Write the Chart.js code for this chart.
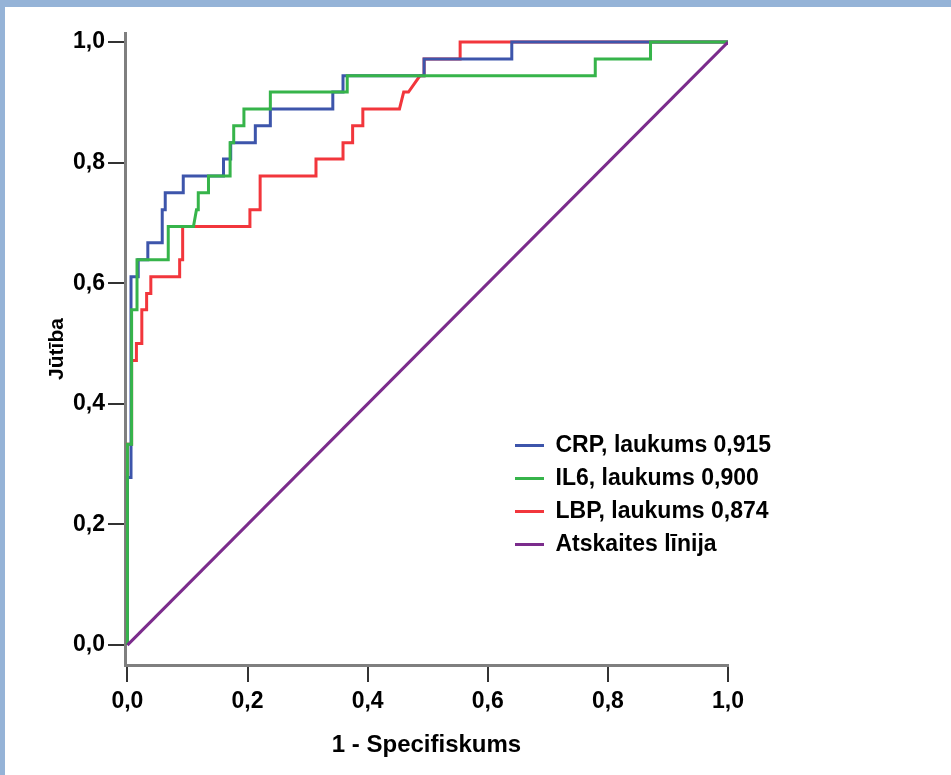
<!DOCTYPE html>
<html lang="lv">
<head>
  <meta charset="UTF-8" />
  <title>ROC līknes</title>
  <script src="https://cdn.jsdelivr.net/npm/chart.js"></script>
  <style>
    html, body { margin: 0; padding: 0; }
    body { width: 951px; height: 775px; background: #95b3d7; position: relative; overflow: hidden; }
    .panel { position: absolute; left: 5px; top: 7px; width: 946px; height: 768px; background: #fff; }
  </style>
</head>
<body>
  <div class="panel">
    <canvas id="rocCanvas" width="946" height="768"></canvas>
  </div>

  <script>
    // ROC curve corner points
    const crpFpr = [0, 0, 0.006, 0.006, 0.018, 0.018, 0.034, 0.034, 0.058, 0.058, 0.063, 0.063, 0.093, 0.093, 0.160, 0.160, 0.172, 0.172, 0.213, 0.213, 0.238, 0.238, 0.342, 0.342, 0.359, 0.359, 0.494, 0.494, 0.640, 0.640, 1];
    const crpTpr = [0, 0.278, 0.278, 0.611, 0.611, 0.639, 0.639, 0.667, 0.667, 0.722, 0.722, 0.750, 0.750, 0.778, 0.778, 0.806, 0.806, 0.833, 0.833, 0.861, 0.861, 0.889, 0.889, 0.917, 0.917, 0.944, 0.944, 0.972, 0.972, 1, 1];

    const il6Fpr = [0, 0, 0.007, 0.007, 0.016, 0.016, 0.068, 0.068, 0.110, 0.115, 0.118, 0.118, 0.135, 0.135, 0.171, 0.171, 0.177, 0.177, 0.194, 0.194, 0.238, 0.238, 0.366, 0.366, 0.779, 0.779, 0.871, 0.871, 1];
    const il6Tpr = [0, 0.333, 0.333, 0.556, 0.556, 0.639, 0.639, 0.694, 0.694, 0.722, 0.722, 0.750, 0.750, 0.778, 0.778, 0.833, 0.833, 0.861, 0.861, 0.889, 0.889, 0.917, 0.917, 0.944, 0.944, 0.972, 0.972, 1, 1];

    const lbpFpr = [0, 0, 0.007, 0.007, 0.015, 0.015, 0.024, 0.024, 0.032, 0.032, 0.039, 0.039, 0.087, 0.087, 0.092, 0.092, 0.204, 0.204, 0.221, 0.221, 0.314, 0.314, 0.359, 0.359, 0.375, 0.375, 0.392, 0.392, 0.453, 0.460, 0.468, 0.487, 0.494, 0.494, 0.554, 0.554, 1];
    const lbpTpr = [0, 0.333, 0.333, 0.472, 0.472, 0.500, 0.500, 0.556, 0.556, 0.583, 0.583, 0.611, 0.611, 0.639, 0.639, 0.694, 0.694, 0.722, 0.722, 0.778, 0.778, 0.806, 0.806, 0.833, 0.833, 0.861, 0.861, 0.889, 0.889, 0.917, 0.917, 0.944, 0.944, 0.972, 0.972, 1, 1];

    const refFpr = [0, 1];
    const refTpr = [0, 1];

    const seriesLabels = ['CRP, laukums 0,915', 'IL6, laukums 0,900', 'LBP, laukums 0,874', 'Atskaites līnija'];
    const tickValues = [0, 0.2, 0.4, 0.6, 0.8, 1.0];

    const toPoints = (xs, ys) => xs.map((x, i) => ({ x: x, y: ys[i] }));
    const fmt = v => v.toFixed(1).replace('.', ',');
    const fontFamily = "'Liberation Sans', Arial, sans-serif";

    // put the legend inside the plot, lower right
    const legendSpot = {
      id: 'legendSpot',
      afterLayout(chart) {
        const lg = chart.legend;
        const w = lg.width, h = lg.height;
        lg.left = 500; lg.top = 417;
        lg.right = lg.left + w; lg.bottom = lg.top + h;
      }
    };

    function line(label, data, color, order) {
      return {
        label: label,
        data: data,
        showLine: true,
        borderColor: color,
        backgroundColor: color,
        borderWidth: 3,
        pointRadius: 0,
        tension: 0,
        order: order
      };
    }

    new Chart(document.getElementById('rocCanvas'), {
      type: 'scatter',
      data: {
        datasets: [
          line(seriesLabels[0], toPoints(crpFpr, crpTpr), '#3d55ab', 2),
          line(seriesLabels[1], toPoints(il6Fpr, il6Tpr), '#36b44a', 1),
          line(seriesLabels[2], toPoints(lbpFpr, lbpTpr), '#f2363c', 3),
          line(seriesLabels[3], toPoints(refFpr, refTpr), '#7b2c8c', 0)
        ]
      },
      options: {
        responsive: false,
        animation: false,
        devicePixelRatio: 1,
        layout: { padding: { left: 40, top: 26, right: 223, bottom: 0 } },
        plugins: {
          tooltip: { enabled: false },
          legend: {
            position: 'chartArea',
            align: 'start',
            labels: {
              usePointStyle: true,
              pointStyle: 'line',
              pointStyleWidth: 29,
              padding: 10,
              color: '#000',
              font: { family: fontFamily, size: 23, weight: 'bold' },
              sort: (a, b) => a.datasetIndex - b.datasetIndex
            }
          }
        },
        scales: {
          x: {
            type: 'linear',
            min: -0.004,
            max: 1.0,
            afterBuildTicks: s => { s.ticks = tickValues.map(v => ({ value: v })); },
            afterFit: s => { s.height = 110; },
            border: { display: true, color: '#7f7f7f', width: 3 },
            grid: { drawOnChartArea: false, drawTicks: true, tickLength: 17, color: '#333', lineWidth: 2 },
            ticks: {
              color: '#000',
              padding: 6,
              maxRotation: 0,
              font: { family: fontFamily, size: 23, weight: 'bold' },
              callback: v => fmt(v)
            },
            title: {
              display: true,
              text: '1 - Specifiskums',
              color: '#000',
              padding: { top: 0, bottom: 15 },
              font: { family: fontFamily, size: 24, weight: 'bold' }
            }
          },
          y: {
            type: 'linear',
            min: -0.033,
            max: 1.015,
            afterBuildTicks: s => { s.ticks = tickValues.map(v => ({ value: v })); },
            afterFit: s => { s.width = 80; },
            border: { display: true, color: '#7f7f7f', width: 3 },
            grid: { drawOnChartArea: false, drawTicks: true, tickLength: 17, color: '#333', lineWidth: 2 },
            ticks: {
              color: '#000',
              padding: 3,
              font: { family: fontFamily, size: 23, weight: 'bold' },
              callback: v => fmt(v)
            },
            title: {
              display: true,
              text: 'Jūtība',
              color: '#000',
              padding: 0,
              font: { family: fontFamily, size: 21, weight: 'bold' }
            }
          }
        }
      },
      plugins: [legendSpot]
    });
  </script>
</body>
</html>
